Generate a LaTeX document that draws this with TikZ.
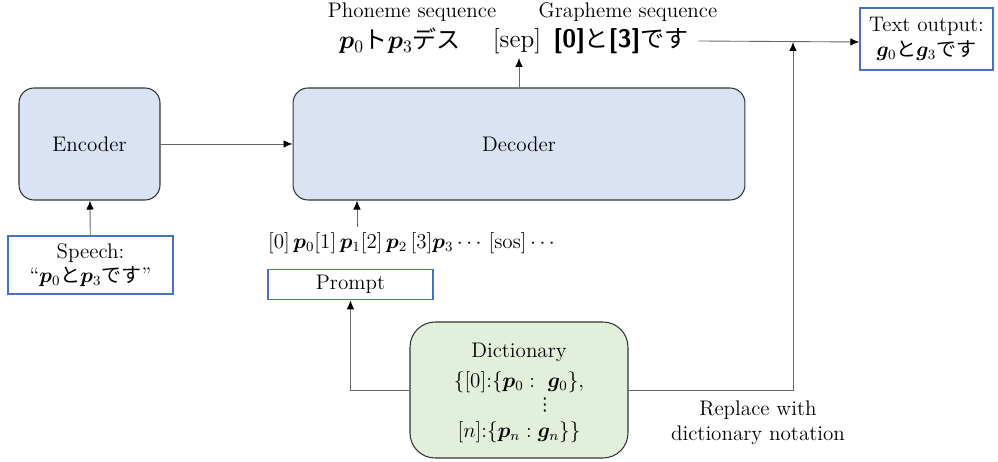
\documentclass[tikz,border=0pt]{standalone}
\usepackage{amsmath}
\usepackage{bm}
\usepackage{fontspec}
\newfontfamily\jpfont{Noto Sans CJK JP}[Scale=0.95]
\newfontfamily\symfont{DejaVu Sans}
\usetikzlibrary{arrows.meta}

\definecolor{boxblue}{HTML}{DAE3F3}
\definecolor{boxgreen}{HTML}{E2EFDA}
\definecolor{lineblue}{HTML}{4472C4}

\newcommand{\ja}[1]{{\jpfont #1}}
\newcommand{\bnum}[1]{{\sffamily\bfseries [#1]}}

\tikzset{
  model/.style={draw=black!80, fill=boxblue, rounded corners=3mm, line width=0.6pt, font=\large},
  io/.style={draw=lineblue, fill=white, line width=0.8pt, font=\large, align=center},
  txt/.style={font=\large, inner sep=1pt},
  conn/.style={draw=black!60, line width=0.5pt, -{Latex[length=1.8mm,width=1.5mm,color=black]}},
  wire/.style={draw=black!60, line width=0.5pt}
}

\begin{document}
\begin{tikzpicture}[x=0.02cm,y=-0.02cm]
\useasboundingbox (0,0) rectangle (998,462);

% models
\node [model, minimum width=2.82cm, minimum height=2.24cm] (enc) at (89.5,144) {Encoder};
\node [model, minimum width=9.04cm, minimum height=2.24cm] (dec) at (519,144) {Decoder};

% input and output boxes
\node [io, minimum width=3.3cm, minimum height=1.16cm] (speech) at (90.5,265)
  {Speech:\\``$\bm{p}_0$\ja{と}$\bm{p}_3$\ja{です}''};
\node [io, minimum width=3.3cm, minimum height=0.58cm] (prompt) at (350.5,284.5) {Prompt};
\node [io, minimum width=2.66cm, minimum height=1.24cm] (out) at (926.5,39)
  {Text output:\\$\bm{g}_0$\ja{と}$\bm{g}_3$\ja{です}};

% dictionary
\node [draw=black!80, fill=boxgreen, rounded corners=0.5cm, line width=0.6pt,
  minimum width=4.36cm, minimum height=2.72cm] (dict) at (519,390) {};
\node [txt] (dicttitle) at (519,352) {Dictionary};
\node [txt] (dictfirst) at (519,382) {$\{[0]{:}\{\bm{p}_0:\ \bm{g}_0\},$};
\node [txt, font=\symfont] (dictdots) at (545,405) {⋮};
\node [txt] (dictlast) at (519,432) {$[n]{:}\{\bm{p}_n:\bm{g}_n\}\}$};

% prompt tokens
\node [txt, anchor=west] (tok) at (266,243)
  {[0]\,$\bm{p}_0$[1]\,$\bm{p}_1$[2]\,$\bm{p}_2$\,[3]$\bm{p}_3$\,$\cdots$\,[sos]\,$\cdots$};

% decoder output sequence
\node [txt, font=\Large] (phon) at (400,41) {$\bm{p}_0$\ja{ト}$\bm{p}_3$\ja{デス}};
\node [txt, font=\Large] (sep) at (517,41) {[sep]};
\node [txt, font=\Large] (graph) at (621,41) {\bnum{0}\ja{と}\bnum{3}\ja{です}};
\node [txt] (phonlab) at (412,12) {Phoneme sequence};
\node [txt] (graphlab) at (628,12) {Grapheme sequence};

\node [txt, align=center] (repl) at (758,423) {Replace with\\dictionary notation};

\coordinate (sepbot) at (519,58);
\coordinate (tokup) at (357,227);
\coordinate (join) at (793,42);

% connectors
\draw [conn] (enc) -- (dec);
\draw [conn] (speech) -- (enc);
\draw [conn] (tokup) -- (tokup |- dec.south);
\draw [conn] (dec.north -| sepbot) -- (sepbot);
\draw [conn] (dict.west) -| (prompt.south);
\draw [conn] (graph.east) ++(8,0) -- (out.west |- join);
\draw [conn] (dict.east) -| (join);

\end{tikzpicture}
\end{document}
